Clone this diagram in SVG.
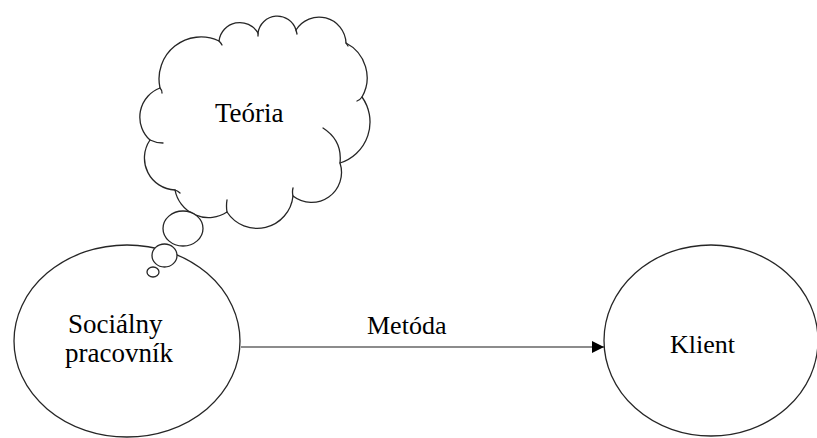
<svg xmlns="http://www.w3.org/2000/svg" width="817" height="438" viewBox="0 0 817 438">
  <style>
    .shape { fill: #ffffff; stroke: #262626; stroke-width: 1.3; }
    .tick { fill: none; stroke: #262626; stroke-width: 1.3; stroke-linecap: round; }
    .conn { fill: none; stroke: #1a1a1a; stroke-width: 1.2; }
    .label { font-family: "Liberation Serif", "Times New Roman", serif; font-size: 26px; fill: #000000; }
    .big { font-size: 27px; }
  </style>
  <defs>
    <marker id="arrow" viewBox="0 0 12 12" refX="12" refY="6" markerWidth="12" markerHeight="12" markerUnits="userSpaceOnUse" orient="auto">
      <path d="M0,0 L12,6 L0,12 Z" fill="#000000"/>
    </marker>
  </defs>
  <rect x="0" y="0" width="817" height="438" fill="#ffffff"/>

  <g id="node-socialny-pracovnik">
    <ellipse class="shape" cx="127" cy="341" rx="113" ry="96"/>
    <text class="label big" x="68" y="333">Sociálny</text>
    <text class="label big" x="65" y="362">pracovník</text>
  </g>

  <g id="node-teoria">
    <path class="shape" d="M150,140 A31,31 0 0 1 160,88 A42,42 0 0 1 219,41 A21,21 0 0 1 258,33 A19.5,19.5 0 0 1 296,30 A27,27 0 0 1 346,43 A39,39 0 0 1 362,97 A43,43 0 0 1 340,163 A30,30 0 0 1 293,196 A36,36 0 0 1 227,212 A34,34 0 0 1 175,190 A32,32 0 0 1 150,140 Z"/>
    <path class="tick" d="M150,140 Q156,143 163,143 M160,88 Q162,90 162,93 M219,41 Q221,43 222,45 M258,33 L258,36 M296,30 L297,34 M346,43 L348,46 M362,97 Q360,100 357,101 M340,163 Q342.5,140.5 323,128 M293,196 Q292,192 293,188 M227,212 Q226,206 227,200 M175,190 Q178,191 180,193"/>
    <ellipse class="shape" cx="183" cy="228.5" rx="20" ry="17.5"/>
    <ellipse class="shape" cx="164.5" cy="255.5" rx="12.5" ry="11.5"/>
    <ellipse class="shape" cx="153" cy="272" rx="6" ry="5"/>
    <text class="label big" x="215" y="122">Teória</text>
  </g>

  <g id="node-klient">
    <ellipse class="shape" cx="711" cy="340.5" rx="107" ry="95.5"/>
    <text class="label" x="670" y="353">Klient</text>
  </g>

  <g id="connectors">
    <line class="conn" x1="241" y1="347" x2="604" y2="347" marker-end="url(#arrow)"/>
    <text class="label" x="367" y="334">Metóda</text>
  </g>
</svg>
